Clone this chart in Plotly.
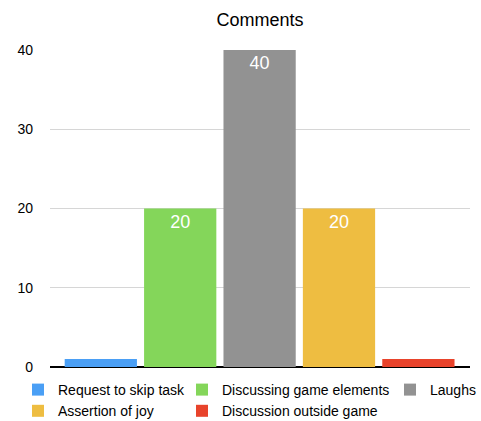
import plotly.graph_objects as go

categories = ["Request to skip task", "Discussing game elements", "Laughs",
              "Assertion of joy", "Discussion outside game"]
values = [1, 20, 40, 20, 1]
labels = ["", "20", "40", "20", ""]
colors = ["#4a9ff5", "#84d65a", "#929292", "#eebd41", "#e8432b"]
legend_ids = ["legend", "legend2", "legend3", "legend", "legend2"]
y_ticks = [0, 10, 20, 30, 40]

FONT = "Liberation Sans, Arial, Helvetica, sans-serif"
W, H = 481, 421

fig = go.Figure()
for cat, v, lab, col, lg in zip(categories, values, labels, colors, legend_ids):
    fig.add_trace(go.Bar(
        x=[cat], y=[v], name=cat, text=[lab],
        marker=dict(color=col, line=dict(width=0)),
        width=0.91, legend=lg,
        textposition="inside", insidetextanchor="end",
        textfont=dict(color="white", size=18, family=FONT),
        hoverinfo="x+y",
    ))

leg_common = dict(
    orientation="v", xref="container", yref="container",
    yanchor="top", xanchor="left",
    font=dict(size=14, family=FONT, color="black"),
    bgcolor="rgba(0,0,0,0)", borderwidth=0, tracegroupgap=0,
    itemclick=False, itemdoubleclick=False,
)
legend_y = 1 - 374 / H

fig.update_layout(
    width=W, height=H,
    margin=dict(l=50, r=11, t=50, b=54, autoexpand=False),
    paper_bgcolor="white", plot_bgcolor="white",
    barmode="overlay",
    font=dict(family=FONT, size=14, color="black"),
    title=dict(text="Comments", x=0.5, xref="paper", y=1 - 20 / H,
               yref="container", xanchor="center", yanchor="middle",
               font=dict(size=18, family=FONT, color="black")),
    xaxis=dict(type="category", categoryorder="array", categoryarray=categories,
               range=[-0.64, 4.65], showticklabels=False, ticks="",
               showgrid=False, zeroline=False, showline=False, fixedrange=True),
    yaxis=dict(range=[0, 40], tickvals=y_ticks, ticktext=[str(t) for t in y_ticks],
               showgrid=True, gridcolor="#d6d6d6", gridwidth=1,
               zeroline=True, zerolinecolor="black", zerolinewidth=2,
               showline=False, ticks="", ticklabelstandoff=16,
               tickfont=dict(size=14, family=FONT, color="black"), fixedrange=True),
    showlegend=True,
    legend=dict(leg_common, x=18 / W, y=legend_y),
    legend2=dict(leg_common, x=182 / W, y=legend_y),
    legend3=dict(leg_common, x=390 / W, y=legend_y),
)

fig.write_html("out.html")
